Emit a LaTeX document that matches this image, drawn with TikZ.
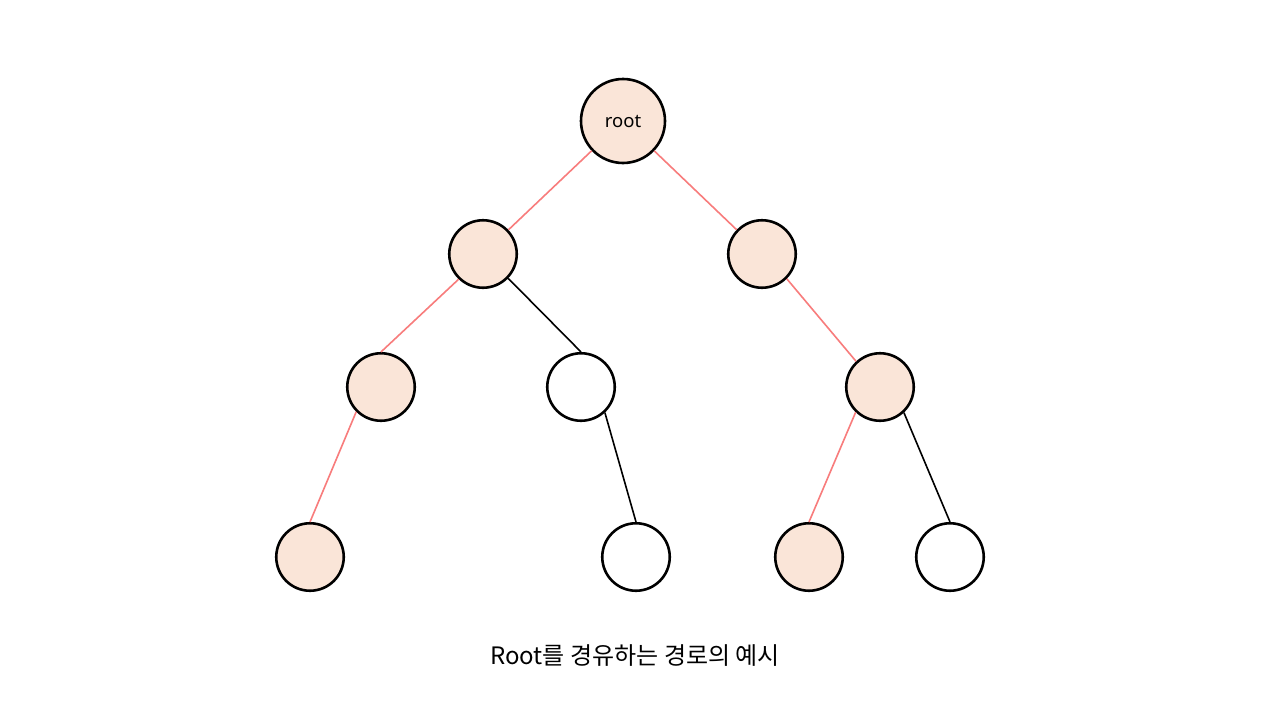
\documentclass[tikz,border=0pt]{standalone}
\usepackage{fontspec}
\setmainfont{Noto Sans}
\newfontfamily\cjk{Noto Sans CJK KR}
\definecolor{peach}{HTML}{FAE5D8}
\definecolor{redline}{HTML}{F87C7C}
\begin{document}
\begin{tikzpicture}[x=1pt,y=-1pt,
  tnode/.style={circle,draw=black,line width=2.6pt,minimum size=67.5pt,inner sep=0pt,fill=white},
  hot/.style={tnode,fill=peach},
  redge/.style={redline,line width=1.6pt},
  bedge/.style={black,line width=1.6pt}]
\useasboundingbox (0,0) rectangle (1280,720);
\fill[white] (0,0) rectangle (1280,720);
\node[hot,minimum size=84pt] (r) at (623,121) {\fontsize{18.5}{20}\selectfont root};
\node[hot] (a) at (483,254) {};
\node[hot] (b) at (762,254) {};
\node[hot] (c) at (381,387) {};
\node[tnode] (d) at (581,387) {};
\node[hot] (e) at (880,387) {};
\node[hot] (f) at (310,557) {};
\node[tnode] (g) at (636,557) {};
\node[hot] (h) at (809,557) {};
\node[tnode] (i) at (950,557) {};
\draw[redge] (r) -- (a);
\draw[redge] (r) -- (b);
\draw[redge] (b.315) -- (e.133);
\draw[redge] (a.226) -- (c.north);
\draw[redge] (c.225) -- (f.north);
\draw[redge] (e.226) -- (h.north);
\draw[bedge] (a.316) -- (d.north);
\draw[bedge] (d.313) -- (g.north);
\draw[bedge] (e.313) -- (i.north);
\node (cap) at (635,656) {\cjk\fontsize{24}{28}\selectfont Root를 경유하는 경로의 예시};
\end{tikzpicture}
\end{document}
